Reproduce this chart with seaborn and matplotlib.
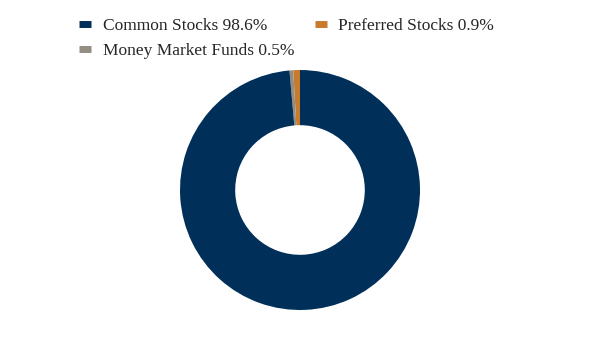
import matplotlib
matplotlib.use("Agg")
import matplotlib.pyplot as plt
from matplotlib.lines import Line2D
import seaborn as sns

categories = ["Common Stocks", "Preferred Stocks", "Money Market Funds"]
values = [98.6, 0.9, 0.5]
colors = ["#00305A", "#C97B2D", "#938D83"]

sns.set_theme(style="white")
plt.rcParams['font.family'] = ['Liberation Serif', 'DejaVu Serif']

fig = plt.figure(figsize=(6, 3.6), dpi=100)
ax = fig.add_axes([0.3, 50/360, 0.4, 240/360])

# drawing order (counterclockwise from top): Preferred, Money Market, Common
order = [1, 2, 0]
pal = sns.color_palette(colors)
ax.pie([values[i] for i in order], colors=[pal[i] for i in order],
       startangle=90, counterclock=True, radius=1.0,
       wedgeprops=dict(width=0.46, linewidth=0))
ax.set_xlim(-1, 1)
ax.set_ylim(-1, 1)
ax.set_aspect("equal")
ax.axis("off")

# legend filled column-wise: col 1 = Common, Money Market; col 2 = Preferred
leg_order = [0, 2, 1]
handles = [Line2D([0], [0], color=pal[i], lw=5, solid_capstyle="butt") for i in leg_order]
labels = [f"{categories[i]} {values[i]}%" for i in leg_order]
fig.legend(handles, labels, loc="upper left", bbox_to_anchor=(0.106, 0.995),
           ncol=2, frameon=False, fontsize=12.5, handlelength=0.7,
           handletextpad=0.65, columnspacing=1.2, labelspacing=0.55)

fig.savefig("out.png", dpi=100)
